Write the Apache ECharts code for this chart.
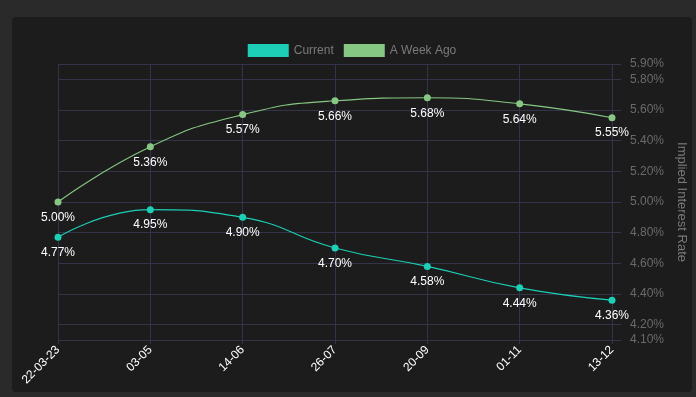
<!DOCTYPE html>
<html>
<head>
<meta charset="utf-8">
<script src="https://cdn.jsdelivr.net/npm/echarts@6/dist/echarts.min.js"></script>
<style>
  html, body { margin: 0; padding: 0; background: #2a2a2a; width: 696px; height: 397px; overflow: hidden; }
  .panel { position: absolute; left: 12px; top: 17px; width: 680px; height: 375px; background: #1c1c1c; border-radius: 4px; }
  #chart { width: 680px; height: 375px; }
</style>
</head>
<body>
<div class="panel"><div id="chart"></div></div>
<script>
// 日期
const dates = ['22-03-23', '03-05', '14-06', '26-07', '20-09', '01-11', '13-12']
// 当前利率
const current = [4.77, 4.95, 4.90, 4.70, 4.58, 4.44, 4.36]
// 一周前利率
const weekAgo = [5.00, 5.36, 5.57, 5.66, 5.68, 5.64, 5.55]
const yMin = 4.1
const yMax = 5.9

const colors = ['#1ccfb6', '#86c883']
const gridColor = '#33334a'
const fontFamily = '"Liberation Sans", Arial, sans-serif'

const myChart = echarts.init(document.getElementById('chart'))
const labelCfg = {
  show: true,
  position: 'bottom',
  distance: 6,
  color: '#fff',
  fontSize: 12,
  fontFamily: fontFamily,
  formatter: (p) => p.value.toFixed(2) + '%'
}
const option = {
  animation: false,
  color: colors,
  textStyle: { fontFamily: fontFamily },
  legend: {
    top: 22,
    left: 'center',
    icon: 'rect',
    itemWidth: 41,
    itemHeight: 13,
    itemGap: 10,
    textStyle: { color: '#7a7a7a', fontSize: 12, fontFamily: fontFamily },
    data: ['Current', 'A Week Ago']
  },
  grid: {
    left: 46,
    right: 80,
    top: 47,
    bottom: 52,
    outerBoundsMode: 'none'
  },
  xAxis: {
    type: 'category',
    boundaryGap: false,
    data: dates,
    axisLine: { lineStyle: { color: gridColor } },
    axisTick: { show: true, length: 4, lineStyle: { color: gridColor } },
    splitLine: { show: true, lineStyle: { color: gridColor } },
    axisLabel: { color: '#fff', rotate: 45, fontSize: 12, margin: 8 }
  },
  yAxis: {
    type: 'value',
    position: 'right',
    min: yMin,
    max: yMax,
    splitNumber: 8,
    name: 'Implied Interest Rate',
    nameLocation: 'middle',
    nameGap: 61,
    nameRotate: -90,
    nameTextStyle: { color: '#7a7a7a', fontSize: 13 },
    axisLine: { show: true, lineStyle: { color: gridColor } },
    axisTick: { show: true, length: 9, lineStyle: { color: gridColor } },
    splitLine: { show: true, lineStyle: { color: gridColor } },
    axisLabel: {
      color: '#6a6a6a',
      fontSize: 12,
      margin: 18,
      formatter: (v) => v.toFixed(2) + '%'
    }
  },
  series: [
    {
      name: 'Current',
      type: 'line',
      smooth: 0.5,
      symbol: 'circle',
      symbolSize: 7,
      lineStyle: { width: 1.1 },
      label: labelCfg,
      data: current
    },
    {
      name: 'A Week Ago',
      type: 'line',
      smooth: 0.5,
      symbol: 'circle',
      symbolSize: 7,
      lineStyle: { width: 1.1 },
      label: labelCfg,
      data: weekAgo
    }
  ]
}
myChart.setOption(option)
</script>
</body>
</html>
